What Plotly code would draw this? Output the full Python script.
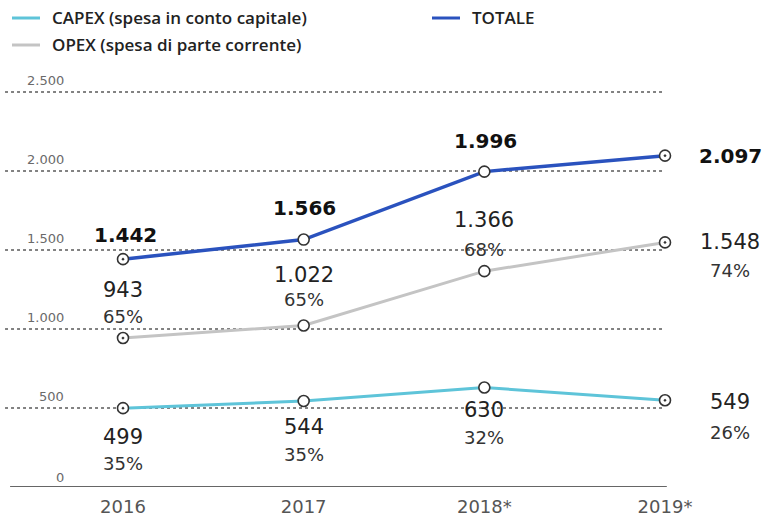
import plotly.graph_objects as go

years = ["2016", "2017", "2018*", "2019*"]
totale = [1442, 1566, 1996, 2097]
opex = [943, 1022, 1366, 1548]
capex = [499, 544, 630, 549]
opex_pct = ["65%", "65%", "68%", "74%"]
capex_pct = ["35%", "35%", "32%", "26%"]
y_ticks = [0, 500, 1000, 1500, 2000, 2500]

def it(n):
    return f"{n:,}".replace(",", ".")

W, H = 764, 519
ML, MR, MT, MB = 0, 0, 60, 32
FONT = "DejaVu Sans"
LFONT = "Open Sans"

x = list(range(len(years)))
fig = go.Figure()

sym = ["circle-dot", "circle", "circle", "circle-dot"]
marker = dict(symbol=sym, size=11, color="white", line=dict(color="#333333", width=1.6))

fig.add_trace(go.Scatter(x=x, y=capex, mode="lines+markers", name="CAPEX (spesa in conto capitale)",
                         line=dict(color="#5ec4d9", width=3), marker=marker, showlegend=False))
fig.add_trace(go.Scatter(x=x, y=opex, mode="lines+markers", name="OPEX (spesa di parte corrente)",
                         line=dict(color="#c4c4c4", width=3), marker=marker, showlegend=False))
fig.add_trace(go.Scatter(x=x, y=totale, mode="lines+markers", name="TOTALE",
                         line=dict(color="#2a52be", width=3.5), marker=marker, showlegend=False))

shapes = []
annotations = []

# gridlines (dotted) and baseline
for v in y_ticks[1:]:
    shapes.append(dict(type="line", xref="x", yref="y", x0=-0.653, x1=3.0, y0=v, y1=v,
                       line=dict(color="#5a5a5a", width=1.3, dash="dot"), layer="below"))
shapes.append(dict(type="line", xref="x", yref="y", x0=-0.625, x1=3.01, y0=0, y1=0,
                   line=dict(color="#333333", width=1.5), layer="below"))

# y tick labels above gridlines
for v in y_ticks:
    annotations.append(dict(x=66 / W, xref="paper", y=v, yref="y", text=it(v), showarrow=False,
                            xanchor="right", yanchor="middle", yshift=10 if v == 0 else 12,
                            font=dict(family=FONT, size=13, color="#6a6a6a")))

# TOTALE labels
tot_off = [(2, 24), (1, 32), (1, 31), (65, 0)]
for i, v in enumerate(totale):
    dx, dy = tot_off[i]
    annotations.append(dict(x=i, y=v, text=it(v), showarrow=False, xshift=dx, yshift=dy,
                            font=dict(family=FONT, size=20, color="#111111", weight="bold")))

# OPEX labels
op_off = [(0, 48, 22), (0, 51, 26), (0, 51, 22), (65, 0, -28)]
for i, v in enumerate(opex):
    dx, d1, d2 = op_off[i]
    annotations.append(dict(x=i, y=v, text=it(v), showarrow=False, xshift=dx, yshift=d1,
                            font=dict(family=FONT, size=21, color="#222222")))
    annotations.append(dict(x=i, y=v, text=opex_pct[i], showarrow=False, xshift=dx, yshift=d2,
                            font=dict(family=FONT, size=18, color="#333333")))

# CAPEX labels
cp_off = [(0, -29, -55), (0, -26, -53), (0, -23, -50), (65, -2, -32)]
for i, v in enumerate(capex):
    dx, d1, d2 = cp_off[i]
    annotations.append(dict(x=i, y=v, text=it(v), showarrow=False, xshift=dx, yshift=d1,
                            font=dict(family=FONT, size=21, color="#222222")))
    annotations.append(dict(x=i, y=v, text=capex_pct[i], showarrow=False, xshift=dx, yshift=d2,
                            font=dict(family=FONT, size=18, color="#333333")))

# manual legend
ph = H - MT - MB
def py(p):
    return (H - MB - p) / ph

legend_items = [
    ("CAPEX (spesa in conto capitale)", "#5ec4d9", 12, 18),
    ("OPEX (spesa di parte corrente)", "#c4c4c4", 12, 45),
    ("TOTALE", "#2a52be", 432, 18),
]
for label, col, lx, ly in legend_items:
    shapes.append(dict(type="line", xref="paper", yref="paper", x0=lx / W, x1=(lx + 28) / W,
                       y0=py(ly), y1=py(ly), line=dict(color=col, width=3)))
    annotations.append(dict(x=(lx + 38) / W, y=py(ly), xref="paper", yref="paper", text=label,
                            showarrow=False, xanchor="left", yanchor="middle",
                            font=dict(family=LFONT, size=17, color="#222222", weight=600)))

x0 = -123 / 180.67
x1 = x0 + W / 180.67
y1 = ph / 0.158

fig.update_layout(
    width=W, height=H,
    margin=dict(l=ML, r=MR, t=MT, b=MB),
    paper_bgcolor="white", plot_bgcolor="white",
    xaxis=dict(range=[x0, x1], tickvals=x, ticktext=years, showgrid=False, zeroline=False,
               showline=False, ticks="", ticklabelstandoff=7,
               tickfont=dict(family=FONT, size=18, color="#555555")),
    yaxis=dict(range=[0, y1], showgrid=False, zeroline=False, showline=False, showticklabels=False),
    shapes=shapes, annotations=annotations, showlegend=False,
)

fig.write_html("out.html")
